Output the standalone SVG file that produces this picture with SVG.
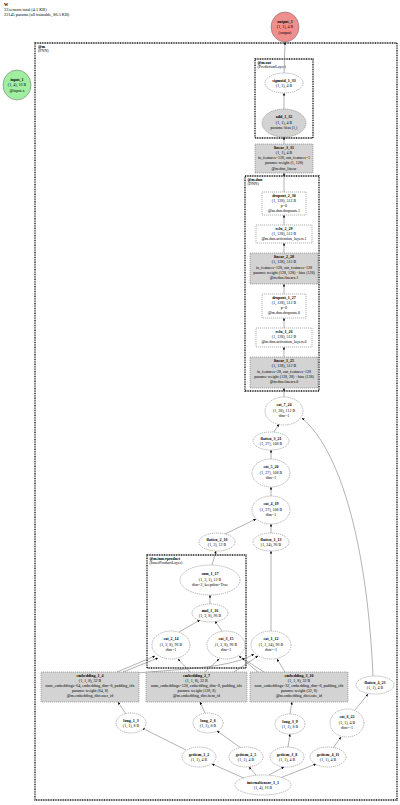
<svg xmlns="http://www.w3.org/2000/svg" width="400" height="805" viewBox="0 0 400 805">
<style>
text{font-family:"Liberation Serif","Times New Roman",serif;font-size:4px;fill:#000;text-anchor:middle}
.b{font-weight:bold}
.l{text-anchor:start}
.h{text-anchor:start;font-size:4.3px}
.n{fill:#fff;stroke:#666;stroke-width:0.5;stroke-dasharray:1.2,0.8}
.g{fill:#d3d3d3;stroke:#666;stroke-width:0.5;stroke-dasharray:1.2,0.8}
.c{fill:none;stroke:#111;stroke-width:1.3;stroke-dasharray:1,0.7}
.e{fill:none;stroke:#666;stroke-width:0.5;marker-end:url(#a)}
</style>
<defs>
<marker id="a" viewBox="0 0 10 10" refX="10" refY="5" markerWidth="2.6" markerHeight="2.6" orient="auto" markerUnits="userSpaceOnUse"><path d="M0,0L10,5L0,10z" fill="#000"/></marker>
</defs>
<rect width="400" height="805" fill="#fff"/>
<g id="header">
<text class="h b" x="4" y="6">W</text>
<text class="h" x="4" y="11">33 tensors total (4.1 KB)</text>
<text class="h" x="4" y="16">22145 params (all trainable, 86.5 KB)</text>
</g>
<g id="clusters">
<rect class="c" x="35" y="43" width="362" height="757"/>
<text class="l b" x="38" y="47.5">@m</text><text class="l" x="38" y="52">(PNN)</text>
<rect class="c" x="255" y="59" width="58" height="79"/>
<text class="l b" x="257.5" y="63.5">@m.out</text><text class="l" x="257.5" y="68">(PredictionLayer)</text>
<rect class="c" x="245" y="176" width="74" height="215"/>
<text class="l b" x="247.5" y="180.5">@m.dnn</text><text class="l" x="247.5" y="185">(DNN)</text>
<rect class="c" x="147" y="555" width="99" height="113"/>
<text class="l b" x="149.5" y="559.5">@m.innerproduct</text><text class="l" x="149.5" y="564">(InnerProductLayer)</text>
</g>
<g id="edges">
<path class="e" d="M284,73L285,42"/>
<path class="e" d="M284,109L284,93"/>
<path class="e" d="M284,144L284,137"/>
<path class="e" d="M284,192L284,173"/>
<path class="e" d="M284,225L284,215"/>
<path class="e" d="M284,253L284,243"/>
<path class="e" d="M284,294L284,284"/>
<path class="e" d="M284,328L284,318"/>
<path class="e" d="M284,357L284,347"/>
<path class="e" d="M284,397L284,388"/>
<path class="e" d="M274,432L279,424"/>
<path class="e" d="M373,676C368,560 345,455 302,418"/>
<path class="e" d="M271,459L271,450"/>
<path class="e" d="M271,496L271,487"/>
<path class="e" d="M225,534L256,519"/>
<path class="e" d="M271,533L271,524"/>
<path class="e" d="M212,565L216,551"/>
<path class="e" d="M210,604L210,595"/>
<path class="e" d="M179,632L200,620"/>
<path class="e" d="M222,631L215,621"/>
<path class="e" d="M271,631L271,551"/>
<path class="e" d="M117,672L155,656"/>
<path class="e" d="M123,672L158,658"/>
<path class="e" d="M138,673C180,669 232,668 254,654"/>
<path class="e" d="M190,672L178,659"/>
<path class="e" d="M205,672L219,659"/>
<path class="e" d="M234,672L258,656"/>
<path class="e" d="M258,672L239,656"/>
<path class="e" d="M264,672L242,658"/>
<path class="e" d="M285,672L277,659"/>
<path class="e" d="M126,714L118,702"/>
<path class="e" d="M186,750L142,728"/>
<path class="e" d="M205,713L200,702"/>
<path class="e" d="M241,748L217,731"/>
<path class="e" d="M290,714L292,702"/>
<path class="e" d="M288,747L290,734"/>
<path class="e" d="M333,748L341,737"/>
<path class="e" d="M355,710L368,694"/>
<path class="e" d="M246,779L212,764"/>
<path class="e" d="M256,775L249,767"/>
<path class="e" d="M269,775L284,767"/>
<path class="e" d="M280,778L316,764"/>
</g>
<g id="output_1"><ellipse cx="285" cy="27" rx="14" ry="15" fill="#f08d8d" stroke="#666" stroke-width="0.5"/>
<text class="b" x="285" y="22.5">output_1</text><text x="285" y="28">(1, 1), 4 B</text><text x="285" y="33.5">(output)</text></g>
<g id="input_1"><ellipse cx="17" cy="85" rx="14" ry="15" fill="#a0eea0" stroke="#666" stroke-width="0.5"/>
<text class="b" x="17" y="80.5">input_1</text><text x="17" y="86">(1, 4), 16 B</text><text x="17" y="91.5">@input.x</text></g>
<g id="sigmoid_1_33"><ellipse class="n" cx="284" cy="83" rx="19" ry="10"/>
<text class="b" x="284" y="81.5">sigmoid_1_33</text><text x="284" y="87">(1, 1), 4 B</text></g>
<g id="add_1_32"><ellipse class="g" cx="284" cy="123" rx="22" ry="14"/>
<text class="b" x="284" y="118">add_1_32</text><text x="284" y="123.5">(1, 1), 4 B</text><text x="284" y="129">params: bias (1,)</text></g>
<g id="linear_3_31"><rect class="g" x="255" y="144" width="58" height="29"/>
<text class="b" x="284" y="148.8">linear_3_31</text><text x="284" y="154">(1, 1), 4 B</text><text x="284" y="159.2">in_features=128, out_features=1</text><text x="284" y="164.4">params: weight (1, 128)</text><text x="284" y="169.6">@m.dnn_linear</text></g>
<g id="dropout_2_30"><rect class="n" x="262" y="192" width="44" height="23"/>
<text class="b" x="284" y="196.5">dropout_2_30</text><text x="284" y="201.5">(1, 128), 512 B</text><text x="284" y="206.5">p=0</text><text x="284" y="211.5">@m.dnn.dropouts.1</text></g>
<g id="relu_2_29"><rect class="n" x="256" y="225" width="56" height="18"/>
<text class="b" x="284" y="229.5">relu_2_29</text><text x="284" y="234.5">(1, 128), 512 B</text><text x="284" y="239.5">@m.dnn.activation_layers.1</text></g>
<g id="linear_2_28"><rect class="g" x="250" y="253" width="68" height="31"/>
<text class="b" x="284" y="258">linear_2_28</text><text x="284" y="263.3">(1, 128), 512 B</text><text x="284" y="268.6">in_features=128, out_features=128</text><text x="284" y="273.9">params: weight (128, 128) · bias (128)</text><text x="284" y="279.2">@m.dnn.linears.1</text></g>
<g id="dropout_1_27"><rect class="n" x="262" y="294" width="44" height="24"/>
<text class="b" x="284" y="298.5">dropout_1_27</text><text x="284" y="303.7">(1, 128), 512 B</text><text x="284" y="308.9">p=0</text><text x="284" y="314.1">@m.dnn.dropouts.0</text></g>
<g id="relu_1_26"><rect class="n" x="256" y="328" width="56" height="19"/>
<text class="b" x="284" y="332.8">relu_1_26</text><text x="284" y="338">(1, 128), 512 B</text><text x="284" y="343.2">@m.dnn.activation_layers.0</text></g>
<g id="linear_1_25"><rect class="g" x="250" y="357" width="68" height="31"/>
<text class="b" x="284" y="362">linear_1_25</text><text x="284" y="367.3">(1, 128), 512 B</text><text x="284" y="372.6">in_features=28, out_features=128</text><text x="284" y="377.9">params: weight (128, 28) · bias (128)</text><text x="284" y="383.2">@m.dnn.linears.0</text></g>
<g id="cat_7_24"><ellipse class="n" cx="284" cy="411" rx="19" ry="14"/>
<text class="b" x="284" y="406">cat_7_24</text><text x="284" y="411.5">(1, 28), 112 B</text><text x="284" y="417">dim=1</text></g>
<g id="flatten_3_21"><ellipse class="n" cx="271" cy="441" rx="18" ry="9"/>
<text class="b" x="271" y="439.5">flatten_3_21</text><text x="271" y="445">(1, 27), 108 B</text></g>
<g id="cat_5_20"><ellipse class="n" cx="271" cy="473" rx="19" ry="14"/>
<text class="b" x="271" y="468">cat_5_20</text><text x="271" y="473.5">(1, 27), 108 B</text><text x="271" y="479">dim=1</text></g>
<g id="cat_4_19"><ellipse class="n" cx="271" cy="510" rx="19" ry="14"/>
<text class="b" x="271" y="505">cat_4_19</text><text x="271" y="510.5">(1, 27), 108 B</text><text x="271" y="516">dim=1</text></g>
<g id="flatten_2_16"><ellipse class="n" cx="217" cy="542" rx="18" ry="9"/>
<text class="b" x="217" y="540.5">flatten_2_16</text><text x="217" y="546">(1, 3), 12 B</text></g>
<g id="flatten_1_13"><ellipse class="n" cx="271" cy="542" rx="18" ry="9"/>
<text class="b" x="271" y="540.5">flatten_1_13</text><text x="271" y="546">(1, 24), 96 B</text></g>
<g id="sum_1_17"><ellipse class="n" cx="210" cy="580" rx="30" ry="15"/>
<text class="b" x="210" y="575">sum_1_17</text><text x="210" y="580.5">(1, 3, 1), 12 B</text><text x="210" y="586">dim=2, keepdim=True</text></g>
<g id="mul_1_16"><ellipse class="n" cx="210" cy="613" rx="18" ry="9"/>
<text class="b" x="210" y="611.5">mul_1_16</text><text x="210" y="617">(1, 3, 8), 96 B</text></g>
<g id="cat_2_14"><ellipse class="n" cx="171" cy="645" rx="19" ry="14"/>
<text class="b" x="171" y="640">cat_2_14</text><text x="171" y="645.5">(1, 3, 8), 96 B</text><text x="171" y="651">dim=1</text></g>
<g id="cat_3_15"><ellipse class="n" cx="226" cy="645" rx="19" ry="14"/>
<text class="b" x="226" y="640">cat_3_15</text><text x="226" y="645.5">(1, 3, 8), 96 B</text><text x="226" y="651">dim=1</text></g>
<g id="cat_1_12"><ellipse class="n" cx="271" cy="645" rx="20" ry="14"/>
<text class="b" x="271" y="640">cat_1_12</text><text x="271" y="645.5">(1, 1, 24), 96 B</text><text x="271" y="651">dim=-1</text></g>
<g id="embedding_1_4"><rect class="g" x="41" y="672" width="98" height="30"/>
<text class="b" x="90" y="676.6">embedding_1_4</text><text x="90" y="681.8">(1, 1, 8), 32 B</text><text x="90" y="687">num_embeddings=64, embedding_dim=8, padding_idx</text><text x="90" y="692.2">params: weight (64, 8)</text><text x="90" y="697.4">@m.embedding_dict.user_id</text></g>
<g id="embedding_2_7"><rect class="g" x="146" y="672" width="101" height="30"/>
<text class="b" x="196.5" y="676.6">embedding_2_7</text><text x="196.5" y="681.8">(1, 1, 8), 32 B</text><text x="196.5" y="687">num_embeddings=128, embedding_dim=8, padding_idx</text><text x="196.5" y="692.2">params: weight (128, 8)</text><text x="196.5" y="697.4">@m.embedding_dict.item_id</text></g>
<g id="embedding_3_10"><rect class="g" x="250" y="672" width="98" height="30"/>
<text class="b" x="299" y="676.6">embedding_3_10</text><text x="299" y="681.8">(1, 1, 8), 32 B</text><text x="299" y="687">num_embeddings=32, embedding_dim=8, padding_idx</text><text x="299" y="692.2">params: weight (32, 8)</text><text x="299" y="697.4">@m.embedding_dict.cate_id</text></g>
<g id="flatten_4_23"><ellipse class="n" cx="375" cy="685" rx="19" ry="9"/>
<text class="b" x="375" y="683.5">flatten_4_23</text><text x="375" y="689">(1, 1), 4 B</text></g>
<g id="long_1_3"><ellipse class="n" cx="131" cy="723" rx="15" ry="10"/>
<text class="b" x="131" y="721.5">long_1_3</text><text x="131" y="727">(1, 1), 8 B</text></g>
<g id="long_2_6"><ellipse class="n" cx="208" cy="723" rx="15" ry="10"/>
<text class="b" x="208" y="721.5">long_2_6</text><text x="208" y="727">(1, 1), 8 B</text></g>
<g id="long_3_9"><ellipse class="n" cx="290" cy="724" rx="15" ry="10"/>
<text class="b" x="290" y="722.5">long_3_9</text><text x="290" y="728">(1, 1), 8 B</text></g>
<g id="cat_6_22"><ellipse class="n" cx="347" cy="723" rx="17" ry="14"/>
<text class="b" x="347" y="718">cat_6_22</text><text x="347" y="723.5">(1, 1), 4 B</text><text x="347" y="729">dim=-1</text></g>
<g id="getitem_1_2"><ellipse class="n" cx="199" cy="757" rx="17" ry="10"/>
<text class="b" x="199" y="755.5">getitem_1_2</text><text x="199" y="761">(1, 1), 4 B</text></g>
<g id="getitem_2_5"><ellipse class="n" cx="246" cy="757" rx="17" ry="10"/>
<text class="b" x="246" y="755.5">getitem_2_5</text><text x="246" y="761">(1, 1), 4 B</text></g>
<g id="getitem_3_8"><ellipse class="n" cx="287" cy="757" rx="17" ry="10"/>
<text class="b" x="287" y="755.5">getitem_3_8</text><text x="287" y="761">(1, 1), 4 B</text></g>
<g id="getitem_4_11"><ellipse class="n" cx="328" cy="757" rx="18" ry="10"/>
<text class="b" x="328" y="755.5">getitem_4_11</text><text x="328" y="761">(1, 1), 4 B</text></g>
<g id="internaltensor_1_1"><ellipse class="n" cx="263" cy="785" rx="28" ry="10"/>
<text class="b" x="263" y="783.5">internaltensor_1_1</text><text x="263" y="789">(1, 4), 16 B</text></g>
</svg>
